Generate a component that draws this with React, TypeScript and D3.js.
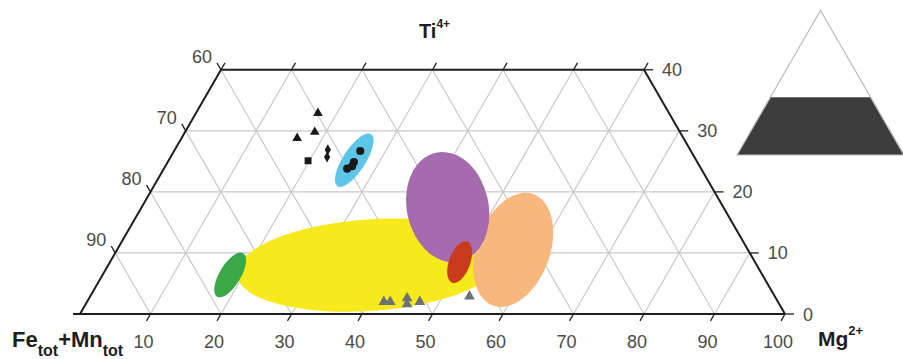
import React, { useEffect, useRef } from "react";
import * as d3 from "d3";

// Mg2+ tick values along the bottom, Ti4+ along the right side, Fe+Mn along the left
const mgTicks = [10, 20, 30, 40, 50, 60, 70, 80, 90, 100];
const tiTicks = [0, 10, 20, 30, 40];
const feTicks = [60, 70, 80, 90];
const topMgTicks = [0, 10, 20, 30, 40, 50, 60];
const gridSteps = [10, 20, 30, 40, 50, 60, 70, 80, 90];

// compositional fields (ellipses), in ternary percent units
const fieldKeys = ["yellow", "green", "cyan", "orange", "purple", "red"];
const fieldMg = [37.1, 18.1, 26.3, 56.2, 43.4, 49.6];
const fieldTi = [8.0, 6.4, 25.2, 10.5, 17.5, 8.5];
const fieldRadiusA = [18.9, 3.6, 4.4, 5.2, 5.8, 1.5];
const fieldRadiusB = [6.5, 1.5, 1.6, 8.4, 7.9, 3.1];
const fieldTilt = [-4, -59, -57, 20, -12, 20];

// analyses: [Mg, Ti]
const blackTriangles = [[17.3, 32.9], [16.4, 28.8], [18.4, 29.8]];
const blackSquares = [[19.8, 25.1]];
const blackDiamonds = [[21.7, 26.9], [22.2, 25.7]];
const blackCircles = [[26.4, 26.7], [26.4, 24.9], [26.5, 24.2], [26.0, 23.8]];
const greyTriangles = [[42.1, 2.0], [43.0, 2.0], [45.1, 2.6], [45.6, 1.6], [47.2, 2.0], [53.8, 2.9]];

const fieldColors = {
  yellow: "#f6e91c",
  green: "#3aa847",
  cyan: "#5dc6e8",
  orange: "#f8b77c",
  purple: "#a66bae",
  red: "#c93a1f",
};

const FONT = "'Liberation Sans', Arial, sans-serif";

const App = () => {
  const chartRef = useRef(null);

  useEffect(() => {
    drawChart();
  }, []);

  const drawChart = () => {
    const svg = d3.select(chartRef.current);
    svg.selectAll("*").remove();

    const side = 705;
    const x = d3.scaleLinear().domain([0, 100]).range([80, 80 + side]);
    const y = d3
      .scaleLinear()
      .domain([0, 100])
      .range([314, 314 - (side * Math.sqrt(3)) / 2]);
    const unit = side / 100;

    // ternary -> screen (Mg, Ti), Fe is the remainder
    const p = (mg, ti) => [x(mg + ti / 2), y(ti)];
    const line = d3.line();

    const grid = svg.append("g").attr("stroke", "#c9c9c9").attr("stroke-width", 1.2).attr("fill", "none");

    // horizontal lines, constant Ti
    [10, 20, 30].forEach((t) => {
      grid.append("path").attr("d", line([p(0, t), p(100 - t, t)]));
    });
    // constant Mg (parallel to left side)
    gridSteps.forEach((m) => {
      grid.append("path").attr("d", line([p(m, 0), p(m, Math.min(40, 100 - m))]));
    });
    // constant Fe (parallel to right side)
    gridSteps.forEach((f) => {
      const s = 100 - f;
      const t = Math.min(40, s);
      grid.append("path").attr("d", line([p(s, 0), p(s - t, t)]));
    });

    // fields
    const fields = svg.append("g");
    fieldKeys.forEach((k, i) => {
      const [cx, cy] = p(fieldMg[i], fieldTi[i]);
      fields
        .append("ellipse")
        .attr("cx", 0)
        .attr("cy", 0)
        .attr("rx", fieldRadiusA[i] * unit)
        .attr("ry", fieldRadiusB[i] * unit)
        .attr("transform", `translate(${cx},${cy}) rotate(${fieldTilt[i]})`)
        .attr("fill", fieldColors[k]);
    });

    // frame
    const axis = svg.append("g").attr("stroke", "#1e1e1e").attr("stroke-width", 2).attr("fill", "none");
    axis.append("path").attr("d", line([[x(0) - 7, y(0)], p(100, 0)]));
    axis.append("path").attr("d", line([p(0, 0), p(0, 40), p(60, 40), p(100, 0)]));

    const ticks = svg.append("g").attr("stroke", "#1e1e1e").attr("stroke-width", 1.3);
    const tl = 8;
    const c60 = Math.cos(Math.PI / 3);
    const s60 = Math.sin(Math.PI / 3);
    mgTicks.forEach((m) => {
      const [px, py] = p(m, 0);
      ticks.append("line").attr("x1", px).attr("y1", py).attr("x2", px - tl * c60).attr("y2", py + tl * s60);
    });
    topMgTicks.forEach((m) => {
      const [px, py] = p(m, 40);
      ticks.append("line").attr("x1", px).attr("y1", py).attr("x2", px + tl * c60).attr("y2", py - tl * s60);
    });
    feTicks.forEach((f) => {
      const [px, py] = p(0, 100 - f);
      ticks.append("line").attr("x1", px).attr("y1", py).attr("x2", px - tl * c60).attr("y2", py - tl * s60);
    });
    tiTicks.forEach((t) => {
      const [px, py] = p(100 - t, t);
      ticks.append("line").attr("x1", px).attr("y1", py).attr("x2", px + 9).attr("y2", py);
    });

    // tick labels
    const labels = svg
      .append("g")
      .attr("font-family", FONT)
      .attr("font-size", 18)
      .attr("fill", "#4a4a4a");
    mgTicks.forEach((m) => {
      const [px] = p(m, 0);
      labels.append("text").attr("x", px - 7).attr("y", 348).attr("text-anchor", "middle").text(m);
    });
    tiTicks.forEach((t) => {
      const [px, py] = p(100 - t, t);
      labels.append("text").attr("x", px + 18).attr("y", py + 6.5).text(t);
    });
    feTicks.forEach((f) => {
      const [px, py] = p(0, 100 - f);
      labels.append("text").attr("x", px - 9).attr("y", py - 7).attr("text-anchor", "end").text(f);
    });

    // data points
    const pts = svg.append("g");
    const drawSymbols = (data, type, size, color) => {
      data.forEach(([m, t]) => {
        const [px, py] = p(m, t);
        pts
          .append("path")
          .attr("d", d3.symbol(type, size)())
          .attr("transform", `translate(${px},${py})`)
          .attr("fill", color);
      });
    };
    drawSymbols(blackTriangles, d3.symbolTriangle, 40, "#1a1a1a");
    drawSymbols(blackSquares, d3.symbolSquare, 48, "#1a1a1a");
    drawSymbols(blackDiamonds, d3.symbolDiamond, 34, "#1a1a1a");
    drawSymbols(blackCircles, d3.symbolCircle, 52, "#1a1a1a");
    drawSymbols(greyTriangles, d3.symbolTriangle, 50, "#6c7178");

    // axis titles
    const titles = svg.append("g").attr("font-family", FONT).attr("font-weight", "bold").attr("fill", "#1e1e1e");
    const ti = titles.append("text").attr("x", 419).attr("y", 38).attr("font-size", 20);
    ti.append("tspan").text("Ti");
    ti.append("tspan").attr("dy", -10).attr("font-size", 12).text("4+");

    const mgT = titles.append("text").attr("x", 818).attr("y", 346).attr("font-size", 21);
    mgT.append("tspan").text("Mg");
    mgT.append("tspan").attr("dy", -11).attr("font-size", 13).text("2+");

    const fe = titles.append("text").attr("x", 12).attr("y", 347).attr("font-size", 22);
    fe.append("tspan").text("Fe");
    fe.append("tspan").attr("dy", 9).attr("font-size", 16).text("tot");
    fe.append("tspan").attr("dy", -9).text("+Mn");
    fe.append("tspan").attr("dy", 9).attr("font-size", 16).text("tot");

    // inset: full triangle with the plotted Ti 0-40 band shaded
    const insetSide = 167;
    const ix = d3.scaleLinear().domain([0, 100]).range([737, 737 + insetSide]);
    const iy = d3
      .scaleLinear()
      .domain([0, 100])
      .range([155, 155 - (insetSide * Math.sqrt(3)) / 2]);
    const ip = (mg, t) => [ix(mg + t / 2), iy(t)];
    svg
      .append("path")
      .attr("d", line([ip(0, 0), ip(0, 40), ip(60, 40), ip(100, 0)]) + "Z")
      .attr("fill", "#3c3c3c");
    svg
      .append("path")
      .attr("d", line([ip(0, 0), ip(0, 100), ip(100, 0)]) + "Z")
      .attr("fill", "none")
      .attr("stroke", "#bdbdbd")
      .attr("stroke-width", 1.2);
  };

  return (
    <svg
      ref={chartRef}
      width={903}
      height={359}
      style={{ position: "absolute", left: 0, top: 0, background: "#fff" }}
    ></svg>
  );
};

export default App;
